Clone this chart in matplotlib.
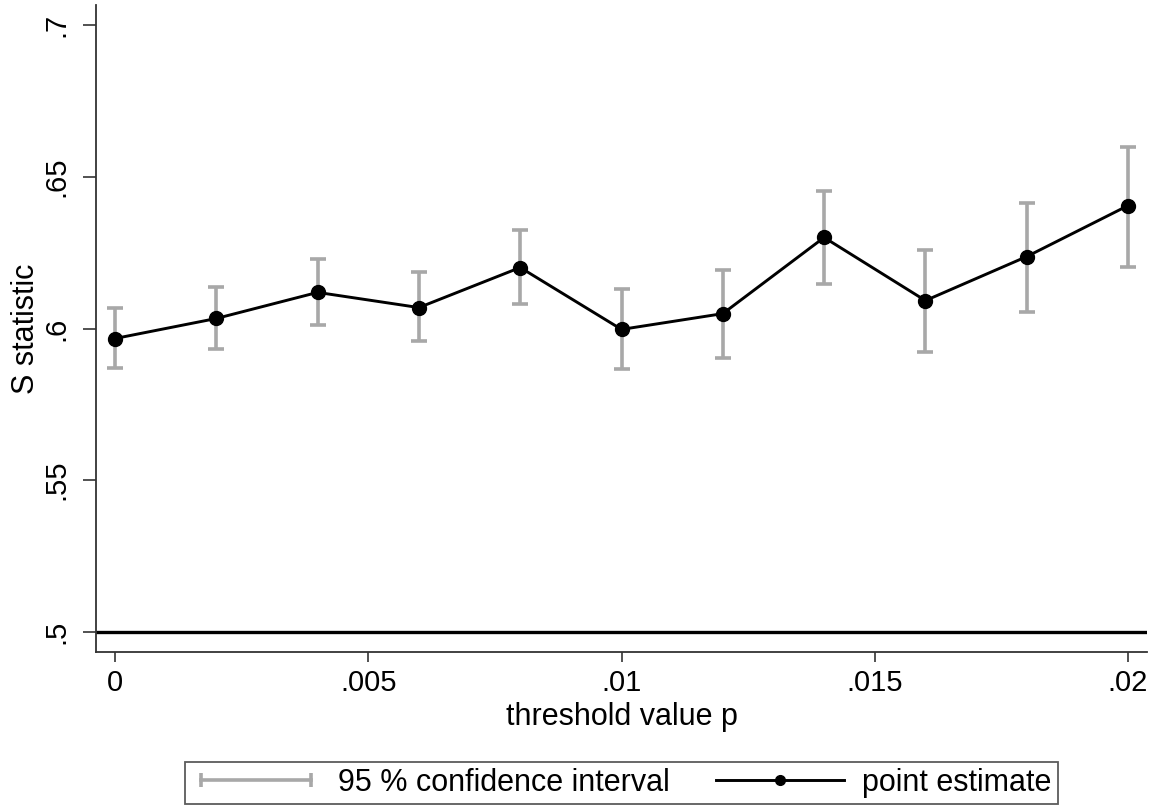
import matplotlib
matplotlib.use("Agg")
import matplotlib.pyplot as plt
from matplotlib.lines import Line2D
from matplotlib.legend_handler import HandlerLine2D

# --- data ---
threshold = [0.0, 0.002, 0.004, 0.006, 0.008, 0.010, 0.012, 0.014, 0.016, 0.018, 0.020]
s_stat = [0.5967, 0.6033, 0.6119, 0.6069, 0.6201, 0.5997, 0.6049, 0.6300, 0.6092, 0.6237, 0.6405]
ci_low = [0.5871, 0.5934, 0.6013, 0.5960, 0.6082, 0.5868, 0.5904, 0.6148, 0.5924, 0.6056, 0.6204]
ci_high = [0.6066, 0.6138, 0.6230, 0.6185, 0.6323, 0.6129, 0.6194, 0.6452, 0.6260, 0.6415, 0.6597]

x_ticks = [0, 0.005, 0.01, 0.015, 0.02]
x_ticklabels = ["0", ".005", ".01", ".015", ".02"]
y_ticks = [0.5, 0.55, 0.6, 0.65, 0.7]
y_ticklabels = [".5", ".55", ".6", ".65", ".7"]
ref_level = 0.5

plt.rcParams["font.family"] = ["Liberation Sans", "DejaVu Sans"]
FS = 21
GRAY = "#a8a8a8"
AXCOL = "#333333"

fig = plt.figure(figsize=(11.61, 8.05), dpi=100)
ax = fig.add_axes([96 / 1161, 153 / 805, (1147 - 96) / 1161, (652 - 5) / 805])

# confidence intervals (caps only, no line between)
err_lo = [s - l for s, l in zip(s_stat, ci_low)]
err_hi = [h - s for s, h in zip(s_stat, ci_high)]
ax.errorbar(threshold, s_stat, yerr=[err_lo, err_hi], fmt="none",
            ecolor=GRAY, elinewidth=2.6, capsize=5.5, capthick=2.6, zorder=2)
ax.plot(threshold, s_stat, color="black", lw=2.1, marker="o", ms=10, zorder=3)
ax.axhline(ref_level, color="black", lw=2.4, zorder=1)

ax.set_xlim(-0.000375, 0.020375)
ax.set_ylim(0.4934, 0.7066)
ax.set_xticks(x_ticks)
ax.set_xticklabels(x_ticklabels)
ax.set_yticks(y_ticks)
ax.set_yticklabels(y_ticklabels, rotation=90, va="center")

for side in ["top", "right"]:
    ax.spines[side].set_visible(False)
for side in ["left", "bottom"]:
    ax.spines[side].set_color(AXCOL)
    ax.spines[side].set_linewidth(1.3)
ax.tick_params(axis="y", length=9.5, width=1.2, color=AXCOL, labelsize=FS, pad=9)
ax.tick_params(axis="x", length=7.5, width=1.2, color=AXCOL, labelsize=FS, pad=5)

ax.set_xlabel("threshold value p", fontsize=22, labelpad=3)
ax.set_ylabel("S statistic", fontsize=22, labelpad=1)

# legend in Stata style
ci_handle = Line2D([], [], color=GRAY, lw=2.6, marker="|", ms=10, mew=2.6)
pt_handle = Line2D([], [], color="black", lw=2.1, marker="o", ms=7)
leg = fig.legend([ci_handle, pt_handle], ["95 % confidence interval", "point estimate"],
                 loc="upper center", bbox_to_anchor=(0.5355, 43 / 805), ncol=2,
                 fontsize=22, frameon=True, fancybox=False, handlelength=4.2,
                 handletextpad=0.6, columnspacing=1.5, borderpad=0.2,
                 borderaxespad=0,
                 handler_map={ci_handle: HandlerLine2D(numpoints=2)})
leg.get_frame().set_edgecolor(AXCOL)
leg.get_frame().set_linewidth(1.3)

fig.savefig("out.png", dpi=100, facecolor="white")
